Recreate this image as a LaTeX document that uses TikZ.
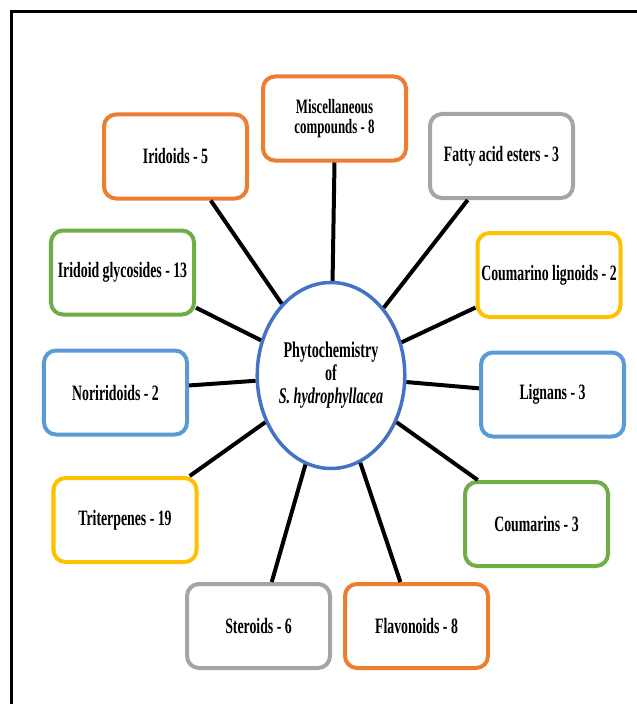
\documentclass[tikz,border=0pt]{standalone}
\usepackage{fontspec}
\setmainfont{Liberation Serif}[FakeStretch=0.63]
\usetikzlibrary{shapes.geometric,calc}
\definecolor{corange}{HTML}{ED7D31}
\definecolor{cgray}{HTML}{A5A5A5}
\definecolor{cgreen}{HTML}{70AD47}
\definecolor{cyellow}{HTML}{FFC000}
\definecolor{cblue}{HTML}{5B9BD5}
\definecolor{chub}{HTML}{4472C4}
\begin{document}
\begin{tikzpicture}[x=1bp,y=-1bp,
  catbox/.style={draw,rounded corners=12bp,line width=4bp,minimum width=143bp,minimum height=84bp,inner sep=0pt,align=center,fill=white,font=\fontsize{22}{24}\selectfont\bfseries},
  hubnode/.style={ellipse,draw=chub,line width=3.5bp,minimum width=145bp,minimum height=186bp,inner sep=0pt,align=center,fill=white,font=\fontsize{22.5}{23}\selectfont\bfseries},
  link/.style={line width=4bp,black}]
\useasboundingbox (0,0) rectangle (637,704);
\draw[line width=3bp] (11,704) -- (11,12) -- (637,12);

\node[hubnode] (hub) at (331,375.5) {Phytochemistry\\of\\\textit{S. hydrophyllacea}};

\node[catbox,draw=corange,font=\fontsize{20.5}{20.5}\selectfont\bfseries] (misc) at (334.5,118.5) {Miscellaneous\\compounds - 8};
\node[catbox,draw=corange] (irid) at (175.5,156.5) {Iridoids - 5};
\node[catbox,draw=cgray] (fatty) at (501.5,156) {Fatty acid esters - 3};
\node[catbox,draw=cgreen] (iglyc) at (122.5,272.5) {Iridoid glycosides - 13};
\node[catbox,draw=cyellow] (coumlig) at (549,275) {Coumarino lignoids - 2};
\node[catbox,draw=cblue] (norir) at (115.5,392.5) {Noriridoids - 2};
\node[catbox,draw=cblue] (lign) at (552.5,394.5) {Lignans - 3};
\node[catbox,draw=cyellow] (triter) at (125,520) {Triterpenes - 19};
\node[catbox,draw=cgreen] (coum) at (536.5,524) {Coumarins - 3};
\node[catbox,draw=cgray] (ster) at (258.5,626) {Steroids - 6};
\node[catbox,draw=corange] (flav) at (416.5,626) {Flavonoids - 8};

\draw[link] (misc.south) -- (hub);
\draw[link] ($(irid.south west)!0.74!(irid.south east)$) -- (hub);
\draw[link] ($(fatty.south west)!0.27!(fatty.south east)$) -- (hub);
\draw[link] ($(iglyc.north east)!0.9!(iglyc.south east)$) -- (hub);
\draw[link] ($(coumlig.north west)!0.87!(coumlig.south west)$) -- (hub);
\draw[link] ($(norir.north east)!0.42!(norir.south east)$) -- (hub);
\draw[link] ($(lign.north west)!0.43!(lign.south west)$) -- (hub);
\draw[link] ($(triter.north west)!0.94!(triter.north east)$) -- (hub);
\draw[link] ($(coum.north west)!0.1!(coum.north east)$) -- (hub);
\draw[link] ($(ster.north west)!0.59!(ster.north east)$) -- (hub);
\draw[link] ($(flav.north west)!0.39!(flav.north east)$) -- (hub);
\end{tikzpicture}
\end{document}
